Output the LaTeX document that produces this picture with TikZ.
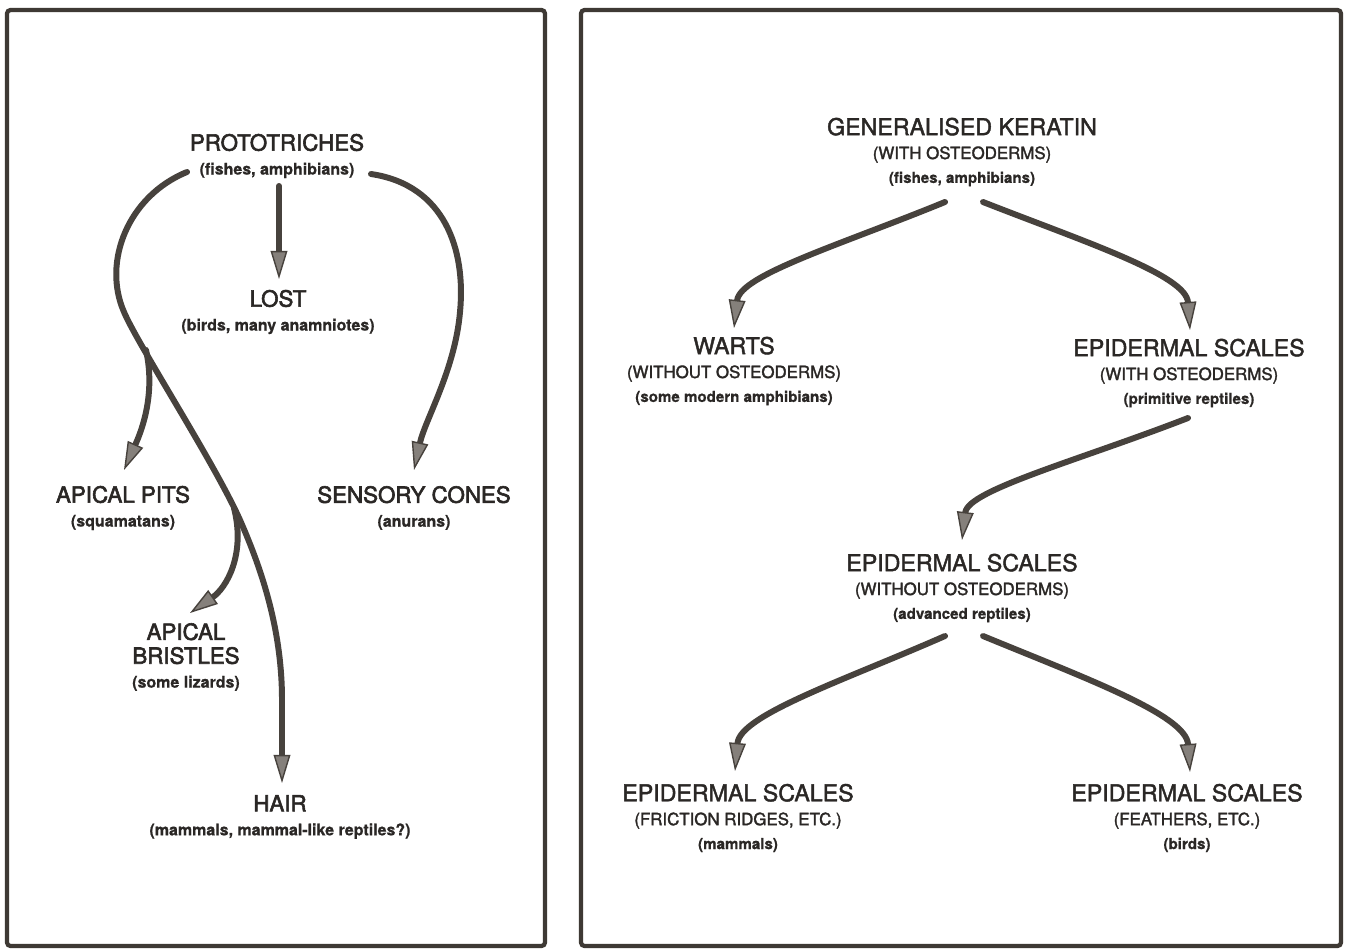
\documentclass[tikz,border=0pt]{standalone}
\usepackage{fontspec}
\setmainfont{TeX Gyre Heros}
\newfontfamily\hfontL[FakeBold=2.6]{TeX Gyre Heros}
\newfontfamily\hfontR[FakeBold=1.8]{TeX Gyre Heros}
\newfontfamily\cfontR[FakeBold=1.8]{TeX Gyre Heros}
\newfontfamily\sfontB[FakeBold=0.8]{TeX Gyre Heros Bold}
\usetikzlibrary{arrows.meta}
\definecolor{ink}{HTML}{2A2725}
\definecolor{strokec}{HTML}{47423D}
\definecolor{headfill}{HTML}{85807B}
\definecolor{framec}{HTML}{3E3934}
\newcommand\HeadL[1]{{\hfontL\fontsize{12.7}{13.6}\selectfont #1}}
\newcommand\SubL[1]{{\sfontB\fontsize{9.1}{13.6}\selectfont #1}}
\newcommand\HeadR[1]{{\hfontR\fontsize{13.2}{13.6}\selectfont #1}}
\newcommand\CapR[1]{{\cfontR\fontsize{9.6}{13.6}\selectfont #1}}
\newcommand\SubR[1]{{\sfontB\fontsize{8.6}{13.6}\selectfont #1}}
\tikzset{
  lbl/.style={align=center, text=ink, inner sep=0pt, font=\fontsize{12}{13.6}\selectfont},
  conn/.style={draw=strokec, line width=3.4pt, line cap=round,
    -{Triangle[length=16pt,width=9.5pt,line width=0.8pt,fill=headfill]}},
  panel/.style={draw=framec, line width=2.4pt, rounded corners=2pt},
}
\begin{document}
\begin{tikzpicture}[x=0.02cm, y=-0.02cm]
\useasboundingbox[fill=white] (0,0) rectangle (1346,951);
% frames
\draw[panel] (7,10) rectangle (545,946);
\draw[panel] (581,10) rectangle (1341,946);

% ---------- left panel labels ----------
\node[lbl] (proto) at (277,156) {\HeadL{PROTOTRICHES}\\\SubL{(fishes, amphibians)}};
\node[lbl] (lost) at (278,312) {\HeadL{LOST}\\\SubL{(birds, many anamniotes)}};
\node[lbl] (pits) at (123,508) {\HeadL{APICAL PITS}\\\SubL{(squamatans)}};
\node[lbl] (cones) at (414,508) {\HeadL{SENSORY CONES}\\\SubL{(anurans)}};
\node[lbl] (bristles) at (186,657) {\HeadL{APICAL}\\\HeadL{BRISTLES}\\\SubL{(some lizards)}};
\node[lbl] (hair) at (280,817) {\HeadL{HAIR}\\\SubL{(mammals, mammal-like reptiles?)}};

% ---------- right panel labels ----------
\node[lbl] (gk) at (962,152) {\HeadR{GENERALISED KERATIN}\\\CapR{(WITH OSTEODERMS)}\\\SubR{(fishes, amphibians)}};
\node[lbl] (warts) at (734,371) {\HeadR{WARTS}\\\CapR{(WITHOUT OSTEODERMS)}\\\SubR{(some modern amphibians)}};
\node[lbl] (esw) at (1189,373) {\HeadR{EPIDERMAL SCALES}\\\CapR{(WITH OSTEODERMS)}\\\SubR{(primitive reptiles)}};
\node[lbl] (eswo) at (962,588) {\HeadR{EPIDERMAL SCALES}\\\CapR{(WITHOUT OSTEODERMS)}\\\SubR{(advanced reptiles)}};
\node[lbl] (esm) at (738,818) {\HeadR{EPIDERMAL SCALES}\\\CapR{(FRICTION RIDGES, ETC.)}\\\SubR{(mammals)}};
\node[lbl] (esb) at (1187,818) {\HeadR{EPIDERMAL SCALES}\\\CapR{(FEATHERS, ETC.)}\\\SubR{(birds)}};

% ---------- connector end points ----------
\coordinate (proto-d) at (279,186);
\coordinate (lost-t) at (279,279);
\coordinate (proto-r) at (371,174);
\coordinate (cones-t) at (414,470);
\coordinate (proto-l) at (187,172);
\coordinate (hair-t) at (282,783);
\coordinate (fork1) at (146,350);
\coordinate (pits-t) at (124,470);
\coordinate (fork2) at (234,508);
\coordinate (bristles-t) at (190,613);

\coordinate (gk-l) at (945,202);
\coordinate (gk-r) at (983,202);
\coordinate (warts-t) at (734,328);
\coordinate (esw-t) at (1190,330);
\coordinate (esw-b) at (1188,418);
\coordinate (eswo-t) at (962,540);
\coordinate (eswo-l) at (945,636);
\coordinate (eswo-r) at (983,636);
\coordinate (esm-t) at (735,771);
\coordinate (esb-t) at (1190,772);

% ---------- left panel connectors ----------
\draw[conn] (proto-d) -- (lost-t);
\draw[conn] (proto-r) .. controls (445,185) and (466,250) .. (460,312)
            .. controls (455,370) and (425,420) .. (cones-t);
\draw[conn] (proto-l) .. controls (128,196) and (102,262) .. (124,312)
            .. controls (138,345) and (214,462) .. (240,520)
            .. controls (262,570) and (282,630) .. (282,700) -- (hair-t);
\draw[conn] (fork1) .. controls (156,395) and (141,432) .. (pits-t);
\draw[conn] (fork2) .. controls (246,555) and (226,588) .. (bristles-t);

% ---------- right panel connectors ----------
\draw[conn] (gk-l) .. controls (840,245) and (740,275) .. (warts-t);
\draw[conn] (gk-r) .. controls (1085,242) and (1186,275) .. (esw-t);
\draw[conn] (esw-b) .. controls (1080,460) and (968,490) .. (eswo-t);
\draw[conn] (eswo-l) .. controls (845,680) and (740,715) .. (esm-t);
\draw[conn] (eswo-r) .. controls (1085,678) and (1186,715) .. (esb-t);
\end{tikzpicture}
\end{document}
